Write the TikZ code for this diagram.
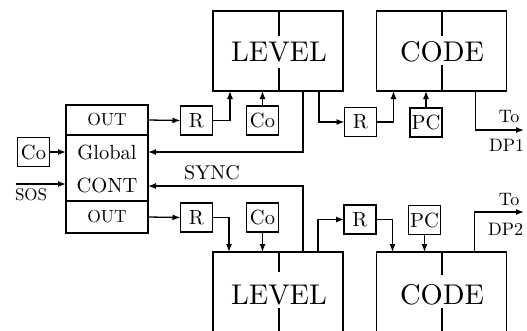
\documentclass[tikz,border=0pt]{standalone}
\usepackage{fontspec}
\setmainfont{lmroman10-regular.otf}
\usetikzlibrary{arrows.meta}
\begin{document}
\begin{tikzpicture}[x=1pt,y=-1pt,line width=1.3pt,
  box/.style={draw,rectangle,inner sep=0pt,outer sep=0pt},
  big/.style={box,minimum width=130pt,minimum height=80pt},
  small/.style={box,minimum width=32pt,minimum height=29pt,font=\fontsize{20.5}{24}\selectfont},
  blk/.style={box,minimum width=82pt},
  lbl/.style={inner sep=0pt,outer sep=0pt},
  bigtxt/.style={lbl,font=\fontsize{28.5}{30}\selectfont},
  arr/.style={-{Latex[length=8pt,width=6pt]}}]
\useasboundingbox (0,0) rectangle (527,330);
% top big boxes
\node[big] (lvl1) at (278,51) {};
\node[big] (code1) at (441.5,51) {};
\node[bigtxt] (lvl1t) at (279,52) {LEVEL};
\node[bigtxt] (code1t) at (442,52) {CODE};
\draw (lvl1.north) ++(1,0) coordinate (d1a) -- ++(0,25);
\draw (lvl1.south) ++(1,0) coordinate (d1b) -- ++(0,-23);
\draw (code1.north) ++(0.5,0) coordinate (d2a) -- ++(0,25);
\draw (code1.south) ++(0.5,0) coordinate (d2b) -- ++(0,-26);
% bottom big boxes (open at bottom)
\node[big,anchor=north,minimum height=110pt] (lvl2) at (278,252) {};
\node[big,anchor=north,minimum height=110pt] (code2) at (441.5,252) {};
\node[bigtxt] (lvl2t) at (279,295) {LEVEL};
\node[bigtxt] (code2t) at (442,295) {CODE};
\draw (lvl2.north) ++(1,0) -- ++(0,20);
\draw (279,308) -- (279,335);
\draw (code2.north) ++(0.5,0) -- ++(0,23);
\draw (442,308) -- (442,335);
% left block
\node[blk,minimum height=30pt,font=\fontsize{17.5}{20}\selectfont] (out1) at (107,120) {OUT};
\node[blk,minimum height=66pt] (gcont) at (107,168) {};
\node[blk,minimum height=32pt,font=\fontsize{17.5}{20}\selectfont] (out2) at (107,217) {OUT};
\node[lbl,font=\fontsize{20.5}{24}\selectfont] (glob) at (107,152) {Global};
\node[lbl,font=\fontsize{20.5}{24}\selectfont] (cont) at (107,185) {CONT};
\node[small] (co0) at (33.5,152) {Co};
\coordinate (sos) at (16,184);
\node[lbl,font=\fontsize{17}{20}\selectfont,anchor=west] (sost) at (15,195) {SOS};
% small boxes top
\node[small] (r1) at (196.5,120.5) {R};
\node[small] (co1) at (262.5,120.5) {Co};
\node[small] (r2) at (360.5,122) {R};
\node[small] (pc1) at (426,122.5) {PC};
% small boxes bottom
\node[small] (r3) at (196.5,217.5) {R};
\node[small] (co3) at (262.5,217.5) {Co};
\node[small] (r4) at (360,219.5) {R};
\node[small] (pc2) at (424.5,220) {PC};
% labels
\node[lbl,font=\fontsize{20}{24}\selectfont] (sync) at (212,173) {SYNC};
\node[lbl,font=\fontsize{18}{20}\selectfont] (to1) at (509,117) {To};
\node[lbl,font=\fontsize{18}{20}\selectfont,anchor=west] (dp1t) at (489,145) {DP1};
\node[lbl,font=\fontsize{18}{20}\selectfont] (to2) at (509,199) {To};
\node[lbl,font=\fontsize{18}{20}\selectfont,anchor=west] (dp2t) at (488,229) {DP2};
\coordinate (dp1) at (524,130);
\coordinate (dp2) at (524,212);
\coordinate (synclev) at (0,186);
% connectors top
\draw[arr] (out1.east) -- (r1.west);
\draw[arr] (r1.east) -| ([xshift=17pt]lvl1.south west);
\draw[arr] (co1.north) -- (co1.north |- lvl1.south);
\draw[arr] ([xshift=90pt]lvl1.south west) |- (gcont.east |- co0.east);
\draw[arr] ([xshift=106pt]lvl1.south west) |- (r2.west);
\draw[arr] (r2.east) -| ([xshift=17pt]code1.south west);
\draw[arr] (pc1.north) -- (pc1.north |- code1.south);
\draw[arr] ([xshift=99pt]code1.south west) |- (dp1);
% left inputs
\draw[arr] (co0.east) -- (co0.east -| gcont.west);
\draw[arr] (sos) -- (sos -| gcont.west);
% connectors bottom
\draw[arr] ([xshift=90pt]lvl2.north west) |- (gcont.east |- synclev);
\draw[arr] (out2.east) -- (r3.west);
\draw[arr] (r3.east) -| ([xshift=16pt]lvl2.north west);
\draw[arr] (co3.south) -- (co3.south |- lvl2.north);
\draw[arr] ([xshift=105pt]lvl2.north west) |- (r4.west);
\draw[arr] (r4.east) -| ([xshift=16pt]code2.north west);
\draw[arr] (pc2.south) -- (pc2.south |- code2.north);
\draw[arr] ([xshift=98pt]code2.north west) |- (dp2);
\end{tikzpicture}
\end{document}
